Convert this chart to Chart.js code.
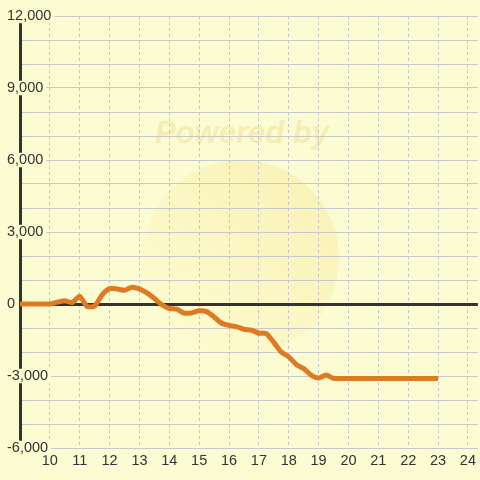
<!DOCTYPE html>
<html lang="en">
<head>
    <meta charset="UTF-8">
    <title>Line chart</title>
    <script src="https://cdn.jsdelivr.net/npm/chart.js"></script>
    <style>
        html, body { margin: 0; padding: 0; background: #fcfcd2; }
        canvas { display: block; }
    </style>
</head>
<body>
    <canvas id="lineChart" width="480" height="480"></canvas>

    <script>
        // data (hour of day -> value)
        const hours = [
            9, 9.25, 9.5, 9.75, 10, 10.25, 10.5, 10.75, 11, 11.25, 11.5, 11.75,
            12, 12.25, 12.5, 12.75, 13, 13.25, 13.5, 13.75, 14, 14.25, 14.5, 14.75,
            15, 15.25, 15.5, 15.75, 16, 16.25, 16.5, 16.75, 17, 17.25, 17.5, 17.75,
            18, 18.25, 18.5, 18.75, 19, 19.25, 19.5, 19.75, 20, 20.25, 20.5, 20.75,
            21, 21.25, 21.5, 21.75, 22, 22.25, 22.5, 22.75, 23
        ];
        const values = [
            0, 0, 0, 0, 0, 80, 140, 60, 320, -110, -80, 380,
            640, 630, 570, 700, 630, 460, 230, -30, -190, -210, -380, -370,
            -280, -320, -540, -800, -890, -940, -1050, -1090, -1220, -1230, -1600, -2000,
            -2200, -2520, -2690, -2960, -3080, -2960, -3100, -3100, -3100, -3100, -3100, -3100,
            -3100, -3100, -3100, -3100, -3100, -3100, -3100, -3100, -3100
        ];
        const xTicks = [10, 11, 12, 13, 14, 15, 16, 17, 18, 19, 20, 21, 22, 23, 24];
        const yTicks = [-6000, -5000, -4000, -3000, -2000, -1000, 0, 1000, 2000, 3000,
                        4000, 5000, 6000, 7000, 8000, 9000, 10000, 11000, 12000];
        const yLabelTicks = [-6000, -3000, 0, 3000, 6000, 9000, 12000];

        const BG = '#fcfcd2';

        // background + faint watermark
        const backdropPlugin = {
            id: 'backdrop',
            beforeDraw(chart) {
                const ctx = chart.ctx;
                ctx.save();
                ctx.fillStyle = BG;
                ctx.fillRect(0, 0, chart.width, chart.height);

                const g = ctx.createLinearGradient(160, 340, 320, 170);
                g.addColorStop(0, 'rgba(255,250,205,0.5)');
                g.addColorStop(1, 'rgba(246,230,150,0.45)');
                ctx.fillStyle = g;
                ctx.beginPath();
                ctx.arc(241, 258, 98, 0, Math.PI * 2);
                ctx.fill();

                ctx.fillStyle = 'rgba(240,222,150,0.5)';
                ctx.font = 'italic bold 31px "Liberation Sans", Arial, sans-serif';
                ctx.textAlign = 'center';
                ctx.textBaseline = 'middle';
                ctx.fillText('Powered by', 242, 134);
                ctx.restore();
            }
        };

        const points = hours.map((h, i) => ({ x: h, y: values[i] }));

        new Chart(document.getElementById('lineChart'), {
            type: 'line',
            data: {
                datasets: [{
                    data: points,
                    borderColor: '#e07a22',
                    borderWidth: 5,
                    borderJoinStyle: 'round',
                    pointRadius: 0,
                    tension: 0.2,
                    fill: false
                }]
            },
            options: {
                responsive: false,
                animation: false,
                devicePixelRatio: 1,
                layout: { padding: { left: 7, right: 0, top: 16, bottom: 0 } },
                plugins: {
                    legend: { display: false },
                    tooltip: { enabled: false }
                },
                scales: {
                    x: {
                        type: 'linear',
                        min: 9,
                        max: 24.333,
                        afterBuildTicks: s => { s.ticks = xTicks.map(v => ({ value: v })); },
                        afterFit: s => { s.height = 32; },
                        grid: {
                            color: '#c4c4c4',
                            lineWidth: 1,
                            drawTicks: false
                        },
                        border: { display: false, dash: [3, 3] },
                        ticks: {
                            padding: 4,
                            color: '#333',
                            font: { family: '"Liberation Sans", Arial, sans-serif', size: 14.5 },
                            maxRotation: 0,
                            autoSkip: false
                        }
                    },
                    y: {
                        min: -6000,
                        max: 12000,
                        afterBuildTicks: s => { s.ticks = yTicks.map(v => ({ value: v })); },
                        afterFit: s => { s.width = 13; },
                        grid: {
                            color: ctx => ctx.tick && ctx.tick.value === 0 ? '#333' : '#c8c8c8',
                            lineWidth: ctx => ctx.tick && ctx.tick.value === 0 ? 3 : 1,
                            drawTicks: false
                        },
                        border: { display: true, color: '#333', width: 3 },
                        ticks: {
                            mirror: true,
                            crossAlign: 'near',
                            padding: -13,
                            color: '#333',
                            autoSkip: false,
                            font: { family: '"Liberation Sans", Arial, sans-serif', size: 14.5, lineHeight: 1 },
                            showLabelBackdrop: true,
                            backdropColor: BG,
                            backdropPadding: { top: 0, bottom: 0, left: 3, right: 3 },
                            callback: v => yLabelTicks.includes(v) ? v.toLocaleString('en-US') : ''
                        }
                    }
                }
            },
            plugins: [backdropPlugin]
        });
    </script>
</body>
</html>
